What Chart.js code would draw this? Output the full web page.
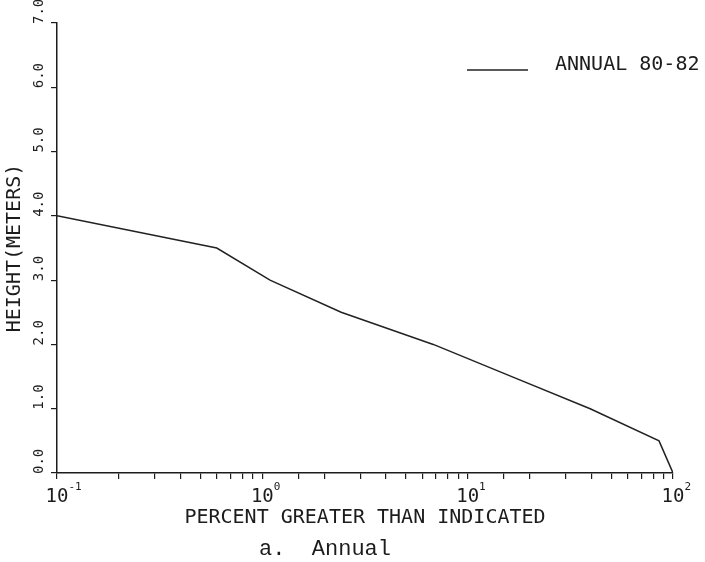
<!DOCTYPE html>
<html>
<head>
<meta charset="utf-8">
<script src="https://cdn.jsdelivr.net/npm/chart.js@4"></script>
<style>
  html, body { margin: 0; padding: 0; background: #ffffff; }
  #wrap { width: 705px; height: 562px; }
</style>
</head>
<body>
<div id="wrap"><canvas id="c" width="705" height="562"></canvas></div>
<script>
// ---- data ----
const seriesLabel = 'ANNUAL 80-82';
const percentGreater = [0.1, 0.6, 1.09, 2.42, 6.8, 16.4, 39.5, 85.5, 100];
const heightMeters   = [4.0, 3.5, 3.0, 2.5, 2.0, 1.5, 1.0, 0.5, 0.0];

const xTickValues    = [0.1, 1, 10, 100];
const xTickBase      = ['10', '10', '10', '10'];
const xTickExponents = ['-1', '0', '1', '2'];
const yTickValues    = [0, 1, 2, 3, 4, 5, 6, 7];
const yTickLabels    = ['0.0', '1.0', '2.0', '3.0', '4.0', '5.0', '6.0', '7.0'];

const xTitle = 'PERCENT GREATER THAN INDICATED';
const yTitle = 'HEIGHT(METERS)';
const caption = 'a.  Annual';

const INK = '#1c1c1c';
const MONO = '"DejaVu Sans Mono", monospace';

const labelPlugin = {
  id: 'labels',
  afterDraw(chart) {
    const ctx = chart.ctx;
    const xs = chart.scales.x, ys = chart.scales.y;
    ctx.save();
    ctx.fillStyle = INK;
    // x tick labels with superscripts
    xTickValues.forEach((v, i) => {
      const px = xs.getPixelForValue(v);
      ctx.font = '19px ' + MONO;
      ctx.textAlign = 'center';
      ctx.textBaseline = 'alphabetic';
      const w = ctx.measureText(xTickBase[i]).width;
      ctx.fillText(xTickBase[i], px, 502);
      ctx.font = '11px ' + MONO;
      ctx.textAlign = 'left';
      ctx.fillText(xTickExponents[i], px + w / 2, 490);
    });
    // y tick labels, rotated
    ctx.font = '14px ' + MONO;
    yTickValues.forEach((v, i) => {
      const py = ys.getPixelForValue(v);
      ctx.save();
      ctx.translate(39, py + 1);
      ctx.rotate(-Math.PI / 2);
      ctx.textAlign = 'left';
      ctx.textBaseline = 'middle';
      ctx.fillText(yTickLabels[i], 0, 0);
      ctx.restore();
    });
    // legend
    const ds = chart.data.datasets[0];
    ctx.strokeStyle = ds.borderColor;
    ctx.lineWidth = 1.5;
    ctx.beginPath();
    ctx.moveTo(467, 70);
    ctx.lineTo(528, 70);
    ctx.stroke();
    ctx.font = '20px ' + MONO;
    ctx.textAlign = 'left';
    ctx.textBaseline = 'alphabetic';
    ctx.fillText(ds.label, 555, 70);
    // caption
    ctx.font = '22px "Liberation Mono", monospace';
    ctx.textAlign = 'center';
    ctx.fillText(caption, 325, 555);
    ctx.restore();
  }
};

new Chart(document.getElementById('c'), {
  type: 'line',
  data: {
    datasets: [{
      label: seriesLabel,
      data: percentGreater.map((x, i) => ({ x: x, y: heightMeters[i] })),
      borderColor: '#222222',
      borderWidth: 1.5,
      pointRadius: 0,
      tension: 0,
      fill: false
    }]
  },
  options: {
    responsive: false,
    animation: false,
    events: [],
    layout: { padding: { top: 23, right: 32, left: 0, bottom: 0 } },
    plugins: { legend: { display: false }, tooltip: { enabled: false } },
    scales: {
      x: {
        type: 'logarithmic',
        min: 0.1,
        max: 100,
        afterFit(scale) { scale.height = 89; },
        border: { color: INK, width: 1.5 },
        grid: { drawOnChartArea: false, drawTicks: true, tickLength: 6, color: INK, lineWidth: 1.2 },
        ticks: { display: false },
        title: {
          display: true, text: xTitle, color: INK,
          font: { family: MONO, size: 20 }, padding: { top: 0, bottom: 32 }
        }
      },
      y: {
        type: 'linear',
        min: 0,
        max: 7,
        afterFit(scale) { scale.width = 57; },
        border: { color: INK, width: 1.5 },
        grid: { drawOnChartArea: false, drawTicks: true, tickLength: 6, color: INK, lineWidth: 1.2 },
        ticks: { display: false, stepSize: 1 },
        title: {
          display: true, text: yTitle, color: INK,
          font: { family: MONO, size: 20 }, padding: { top: 3, bottom: 0 }
        }
      }
    }
  },
  plugins: [labelPlugin]
});
</script>
</body>
</html>
